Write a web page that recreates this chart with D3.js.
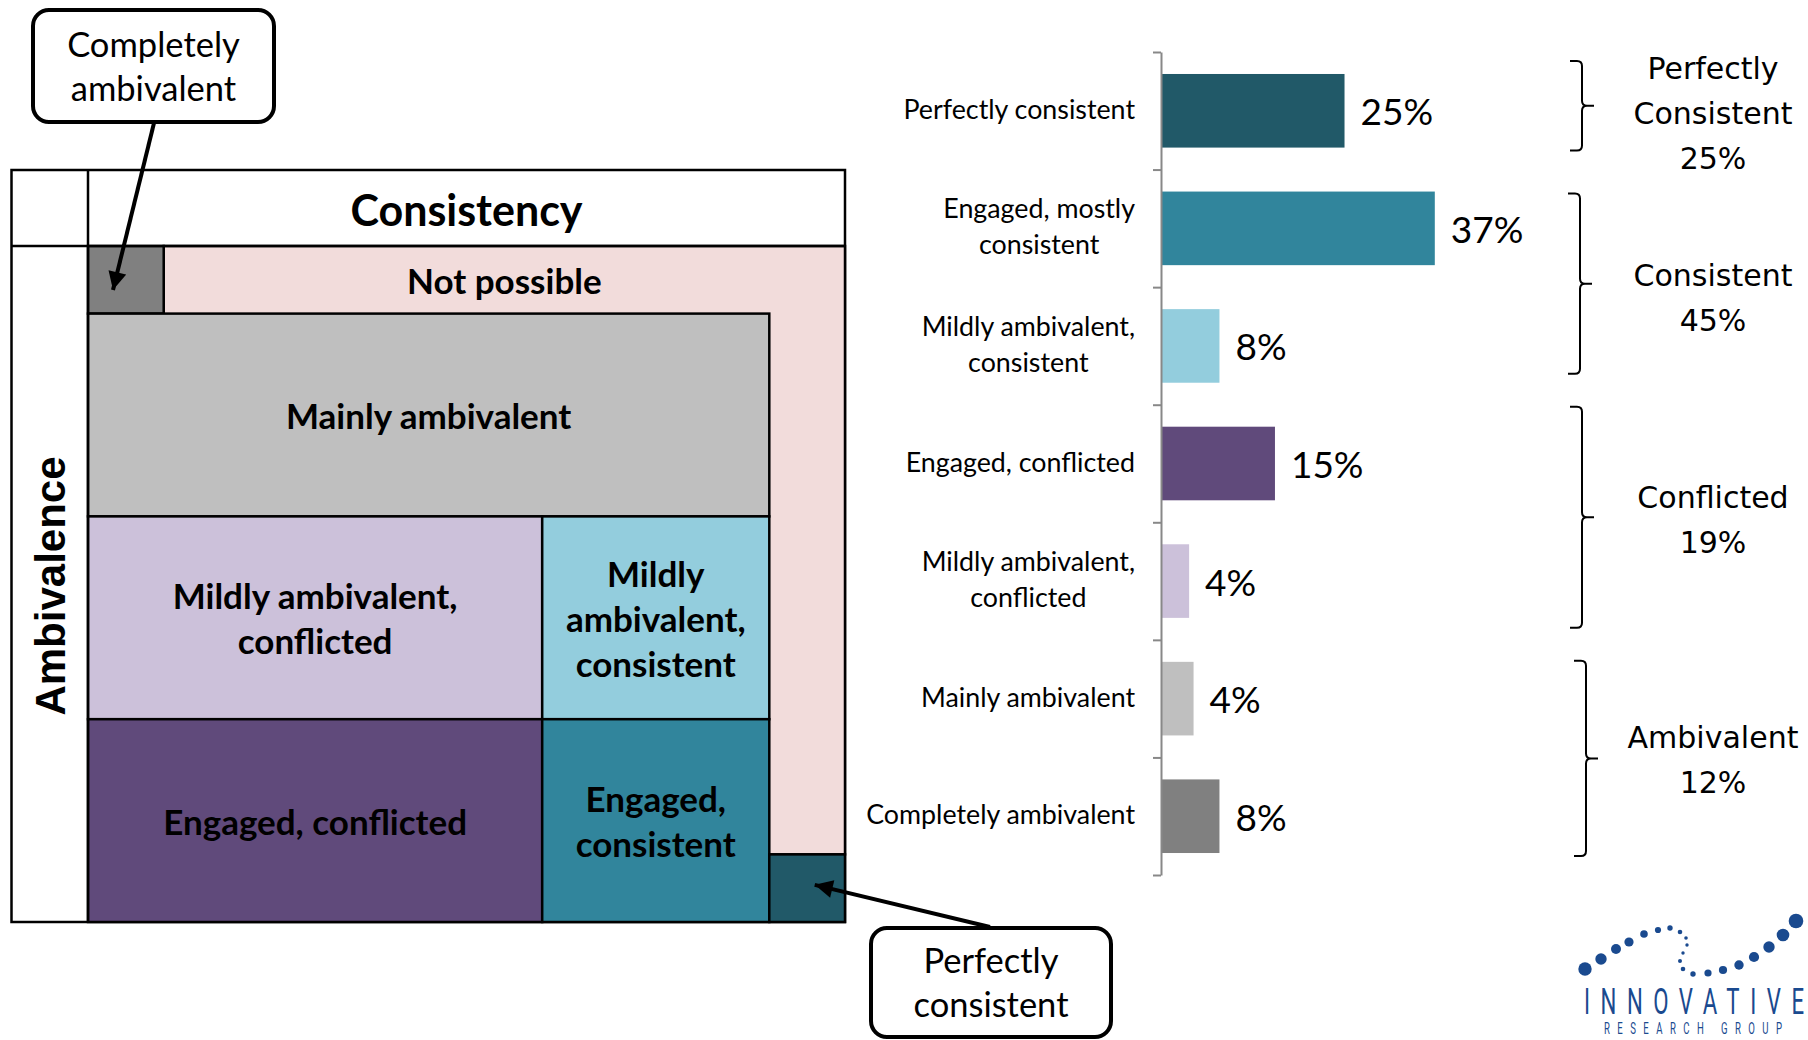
<!DOCTYPE html>
<html><head><meta charset="utf-8">
<script src="https://cdn.jsdelivr.net/npm/d3@7"></script>
<style>
html,body{margin:0;padding:0;background:#fff;}
svg{display:block;}
</style></head><body>
<svg id="chart" width="1808" height="1040"></svg>
<script>
// ---------------- data ----------------
const categories = ["Perfectly consistent", "Engaged, mostly\nconsistent", "Mildly ambivalent,\nconsistent",
  "Engaged, conflicted", "Mildly ambivalent,\nconflicted", "Mainly ambivalent", "Completely ambivalent"];
const shares = [24.8, 37.0, 7.9, 15.4, 3.8, 4.4, 7.9];
const barColors = ["#215968", "#31859c", "#93cddd", "#604a7b", "#ccc1da", "#bfbfbf", "#808080"];

const groupNames = ["Perfectly\nConsistent", "Consistent", "Conflicted", "Ambivalent"];
const groupShares = [25, 45, 19, 12];
const groupFirst = [0, 1, 3, 5];
const groupLast = [0, 2, 4, 6];

// conceptual grid: spans on the consistency (x) and ambivalence (y) axes, in grid units 0..10
const cellNames = ["Not possible", "Completely ambivalent", "Mainly ambivalent", "Mildly ambivalent, conflicted",
  "Mildly ambivalent, consistent", "Engaged, conflicted", "Engaged, consistent", "Perfectly consistent"];
const cellText = ["Not possible", "", "Mainly ambivalent", "Mildly ambivalent,\nconflicted",
  "Mildly\nambivalent,\nconsistent", "Engaged, conflicted", "Engaged,\nconsistent", ""];
const cellConsistency = [[1, 10], [0, 1], [0, 9], [0, 6], [6, 9], [0, 6], [6, 9], [9, 10]];
const cellAmbivalence = [[0, 9], [0, 1], [1, 4], [4, 7], [4, 7], [7, 10], [7, 10], [9, 10]];
const cellColors = ["#f2dcdb", "#808080", "#bfbfbf", "#ccc1da", "#93cddd", "#604a7b", "#31859c", "#215968"];
const notPossibleTextBand = [0, 1];

const axisTitles = ["Consistency", "Ambivalence"];
const callouts = ["Completely\nambivalent", "Perfectly\nconsistent"];

// ---------------- drawing ----------------
const svg = d3.select("#chart");
const calibri = "Lato, 'Open Sans', sans-serif";

function multiline(sel, text, cx, cy, lh) {
  const lines = text.split("\n");
  return lines.map((ln, i) => sel.append("text")
      .attr("x", cx)
      .attr("y", cy + (i - (lines.length - 1) / 2) * lh)
      .attr("dominant-baseline", "central")
      .text(ln));
}

// ---- grid diagram ----
const gx = d3.scaleLinear().domain([0, 10]).range([88, 845]);
const gy = d3.scaleLinear().domain([0, 10]).range([246, 922]);
const frameL = 11.5, frameT = 170;

const grid = svg.append("g");
grid.append("rect").attr("x", frameL).attr("y", frameT)
  .attr("width", gx(10) - frameL).attr("height", gy(10) - frameT)
  .attr("fill", "#fff").attr("stroke", "#000").attr("stroke-width", 2.5);

const cells = cellNames.map((n, i) => ({
  name: n, text: cellText[i], c: cellConsistency[i], a: cellAmbivalence[i], color: cellColors[i]
}));

grid.selectAll("rect.cell").data(cells).join("rect")
  .attr("class", "cell")
  .attr("x", d => gx(d.c[0])).attr("y", d => gy(d.a[0]))
  .attr("width", d => gx(d.c[1]) - gx(d.c[0]))
  .attr("height", d => gy(d.a[1]) - gy(d.a[0]))
  .attr("fill", d => d.color).attr("stroke", "#000").attr("stroke-width", 2.5);

const cellLabelG = grid.append("g")
  .attr("font-family", calibri).attr("font-weight", 700).attr("font-size", 35)
  .attr("text-anchor", "middle").attr("fill", "#000");
cells.forEach(d => {
  if (!d.text) return;
  const a = d.name === "Not possible" ? notPossibleTextBand : d.a;
  multiline(cellLabelG, d.text, (gx(d.c[0]) + gx(d.c[1])) / 2, (gy(a[0]) + gy(a[1])) / 2, 45);
});

// header row and left column lines
grid.append("line").attr("x1", frameL).attr("x2", gx(10)).attr("y1", gy(0)).attr("y2", gy(0))
  .attr("stroke", "#000").attr("stroke-width", 2.5);
grid.append("line").attr("x1", gx(0)).attr("x2", gx(0)).attr("y1", frameT).attr("y2", gy(10))
  .attr("stroke", "#000").attr("stroke-width", 2.5);

grid.append("text").attr("x", (gx(0) + gx(10)) / 2).attr("y", (frameT + gy(0)) / 2 + 1)
  .attr("text-anchor", "middle").attr("dominant-baseline", "central")
  .attr("font-family", calibri).attr("font-weight", 700).attr("font-size", 43)
  .text(axisTitles[0]);
grid.append("text")
  .attr("transform", `translate(${(frameL + gx(0)) / 2 + 1},${(gy(0) + gy(10)) / 2 + 2}) rotate(-90)`)
  .attr("text-anchor", "middle").attr("dominant-baseline", "central")
  .attr("font-family", "'Liberation Sans', Arial, sans-serif").attr("font-weight", 700).attr("font-size", 42)
  .text(axisTitles[1]);

// ---- bar chart ----
const axisX = 1161;
const y = d3.scaleBand().domain(categories).range([52, 875]).paddingInner(0.374).paddingOuter(0.187);
const x = d3.scaleLinear().domain([0, 50]).range([axisX, axisX + 370]);
const bars = svg.append("g");

bars.selectAll("rect").data(categories).join("rect")
  .attr("x", x(0)).attr("y", d => y(d))
  .attr("width", (d, i) => x(shares[i]) - x(0)).attr("height", y.bandwidth())
  .attr("fill", (d, i) => barColors[i]);

const boundary = d3.scaleLinear().domain([0, categories.length]).range(y.range());
const axisG = svg.append("g").attr("transform", `translate(${axisX},0)`)
  .call(d3.axisLeft(boundary).ticks(categories.length).tickFormat("").tickSize(8).tickSizeOuter(0));
axisG.selectAll("path,line").attr("stroke", "#888").attr("stroke-width", 2);

// category labels: block right-aligned to the axis, lines centred within the block
const catG = svg.append("g").attr("font-family", calibri).attr("font-size", 26.8)
  .attr("text-anchor", "middle").attr("fill", "#000");
const labelRight = axisX - 26;
categories.forEach(c => {
  const texts = multiline(catG, c, 0, y(c) + y.bandwidth() / 2 - 2, 36);
  const wMax = d3.max(texts, t => t.node().getComputedTextLength());
  texts.forEach(t => t.attr("x", labelRight - wMax / 2));
});

const fmt = d3.format(".0f");
svg.append("g").attr("font-family", calibri).attr("font-size", 37).attr("fill", "#000")
  .selectAll("text").data(categories).join("text")
  .attr("x", (d, i) => x(shares[i]) + 16)
  .attr("y", d => y(d) + y.bandwidth() / 2)
  .attr("dominant-baseline", "central")
  .text((d, i) => fmt(shares[i]) + "%");

// ---- brackets ----
const brX = [1582, 1580, 1582, 1586];
const brInsetTop = [9, 24, 2, 21];
const brInsetBottom = [19, 31, 12, 19];
const labelShift = [3, 11, -2.5, 3];
const brG = svg.append("g");
groupNames.forEach((g, i) => {
  const top = y(categories[groupFirst[i]]) - y.step() * y.paddingOuter();
  const bottom = y(categories[groupLast[i]]) + y.bandwidth() + y.step() * y.paddingOuter();
  const y0 = top + brInsetTop[i];
  const y1 = bottom - brInsetBottom[i];
  const ym = (y0 + y1) / 2;
  const bx = brX[i];
  const r = 5;
  const p = `M${bx - 12},${y0} L${bx - r},${y0} Q${bx},${y0} ${bx},${y0 + r}
    L${bx},${ym - r} Q${bx},${ym} ${bx + r},${ym} L${bx + 12},${ym}
    M${bx + r},${ym} Q${bx},${ym} ${bx},${ym + r}
    L${bx},${y1 - r} Q${bx},${y1} ${bx - r},${y1} L${bx - 12},${y1}`;
  brG.append("path").attr("d", p).attr("fill", "none").attr("stroke", "#000").attr("stroke-width", 2);
  const tg = brG.append("g").attr("font-family", "'DejaVu Sans', Verdana, sans-serif")
    .attr("font-size", 30).attr("text-anchor", "middle").attr("fill", "#000");
  multiline(tg, g + "\n" + groupShares[i] + "%", 1713, (top + bottom) / 2 + labelShift[i], 45);
});

// ---- callouts ----
const defs = svg.append("defs");
defs.append("marker").attr("id", "arr").attr("viewBox", "0 0 10 10")
  .attr("refX", 10).attr("refY", 5).attr("markerUnits", "userSpaceOnUse")
  .attr("markerWidth", 22).attr("markerHeight", 18).attr("orient", "auto")
  .append("path").attr("d", "M0,0 L10,5 L0,10 z").attr("fill", "#000");

function callout(text, bx, by, bw, bh, from, to) {
  const g = svg.append("g");
  g.append("rect").attr("x", bx).attr("y", by).attr("width", bw).attr("height", bh)
    .attr("rx", 16).attr("fill", "#fff").attr("stroke", "#000").attr("stroke-width", 4);
  const tg = g.append("g").attr("font-family", calibri).attr("font-size", 34.5)
    .attr("text-anchor", "middle").attr("fill", "#000");
  multiline(tg, text, bx + bw / 2, by + bh / 2 - 1, 44);
  g.append("line").attr("x1", from[0]).attr("y1", from[1]).attr("x2", to[0]).attr("y2", to[1])
    .attr("stroke", "#000").attr("stroke-width", 4).attr("marker-end", "url(#arr)");
}
callout(callouts[0], 33, 10, 241, 112, [154, 123], [gx(0.33), gy(0.65)]);
callout(callouts[1], 871, 928, 240, 109, [990, 927], [gx(9.6), gy(9.45)]);

// ---- logo ----
const logo = svg.append("g").attr("fill", "#1a4a8f");
const logoDots = [[1585,969,6.7],[1601,959,5.7],[1616,949,5],[1629,942,4.6],[1644,934,3.8],[1658,930,3.1],
  [1670,928,2.7],[1680,932,2.3],[1686,938,1.8],[1687,945,1.7],[1683,953,1.7],[1680,961,2],[1683,969,2.3],
  [1693,974,2.7],[1708,973,3.6],[1723,970,4.1],[1739,965,4.7],[1754,957,5.1],[1769,947,5.7],[1783,935,6.3],[1796,921,7.3]];
logo.selectAll("circle").data(logoDots).join("circle")
  .attr("cx", d => d[0]).attr("cy", d => d[1]).attr("r", d => d[2]);
const sx = 0.6;
logo.append("text").attr("transform", `translate(1584,1014) scale(${sx},1)`)
  .attr("font-family", "Roboto, sans-serif").attr("font-size", 37)
  .attr("textLength", 220 / sx).attr("lengthAdjust", "spacing").text("INNOVATIVE");
logo.append("text").attr("transform", `translate(1604,1034) scale(${sx},1)`)
  .attr("font-family", "Roboto, sans-serif").attr("font-size", 16)
  .attr("textLength", 178 / sx).attr("lengthAdjust", "spacing").text("RESEARCH GROUP");
</script>
</body></html>
